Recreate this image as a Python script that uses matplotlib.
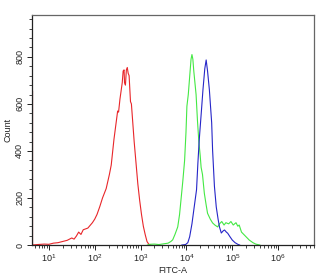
import numpy as np
import matplotlib
matplotlib.use("Agg")
import matplotlib.pyplot as plt
from matplotlib.ticker import FixedLocator, MultipleLocator, FuncFormatter

plt.rcParams['font.family'] = ['Liberation Sans', 'DejaVu Sans']
plt.rcParams['mathtext.fontset'] = 'custom'
plt.rcParams['mathtext.rm'] = 'Liberation Sans'
plt.rcParams['mathtext.it'] = 'Liberation Sans'

# histogram traces, x given as log10(FITC-A)
red_log = [0.63, 0.63, 0.75, 0.9, 1.0, 1.1, 1.2, 1.3, 1.4, 1.5, 1.55, 1.6, 1.65, 1.7, 1.75,
           1.85, 1.95, 2.0, 2.05, 2.11, 2.17, 2.25, 2.32, 2.36, 2.39, 2.42, 2.46, 2.5, 2.52,
           2.55, 2.6, 2.62, 2.64, 2.65, 2.67, 2.69, 2.71, 2.73, 2.75, 2.78, 2.8, 2.83, 2.86,
           2.9, 2.94, 2.98, 3.02, 3.06, 3.1, 3.14, 3.18, 3.22]
red_cnt = [650, 0, 2, 4, 3, 8, 10, 15, 20, 30, 25, 38, 55, 45, 65,
           72, 95, 110, 130, 163, 200, 240, 300, 340, 395, 450, 510, 570, 565,
           620, 690, 740, 745, 690, 680, 745, 755, 730, 720, 610, 600, 520, 440,
           350, 260, 190, 130, 80, 45, 15, 3, 0]

green_log = [3.15, 3.2, 3.3, 3.4, 3.5, 3.6, 3.66, 3.7, 3.75, 3.81, 3.85, 3.88, 3.92, 3.96,
             3.99, 4.01, 4.04, 4.07, 4.1, 4.12, 4.14, 4.16, 4.18, 4.21, 4.24, 4.27, 4.3,
             4.32, 4.35, 4.39, 4.43, 4.46, 4.52, 4.57, 4.62, 4.68, 4.72, 4.77, 4.82, 4.86,
             4.92, 4.97, 5.02, 5.08, 5.12, 5.15, 5.2, 5.25, 5.3, 5.37, 5.45, 5.51, 5.6]
green_cnt = [0, 3, 4, 2, 5, 8, 15, 22, 45, 77, 130, 190, 270, 360,
             480, 590, 640, 715, 790, 810, 790, 740, 700, 640, 530, 440, 380,
             330, 300, 220, 170, 135, 110, 94, 85, 77, 90, 100, 85, 95,
             90, 100, 85, 95, 80, 85, 55, 45, 35, 21, 10, 4, 0]

blue_log = [3.9, 3.98, 4.03, 4.07, 4.12, 4.17, 4.22, 4.25, 4.28, 4.33, 4.36, 4.4, 4.43,
            4.46, 4.5, 4.55, 4.57, 4.61, 4.65, 4.69, 4.72, 4.76, 4.8, 4.83, 4.87, 4.9,
            4.95, 5.0, 5.06, 5.12, 5.16]
blue_cnt = [0, 2, 10, 35, 90, 163, 235, 350, 450, 580, 660, 750, 787,
            740, 660, 520, 404, 250, 162, 110, 77, 51, 60, 64, 55, 50,
            35, 21, 10, 3, 0]

decades = [1, 2, 3, 4, 5, 6]

fig = plt.figure(figsize=(3.22, 2.75), dpi=100)
ax = fig.add_axes([0.099, 0.109, 0.876, 0.838])

ax.plot(10 ** np.array(red_log), red_cnt, color='#e8262a', lw=0.8)
ax.plot(10 ** np.array(green_log), green_cnt, color='#44e844', lw=0.8)
ax.plot(10 ** np.array(blue_log), blue_cnt, color='#2626c8', lw=0.8)
# pile-up at the left edge is drawn darker
ax.plot(10 ** np.array(red_log[:2]), red_cnt[:2], color='#a01c1c', lw=1.6)

ax.set_xscale('log')
ax.set_xlim(10 ** 0.63, 10 ** 6.78)
ax.set_ylim(0, 980)

major = [10.0 ** d for d in decades]
minor = [m * 10.0 ** d for d in [0] + decades for m in range(2, 10)]
ax.xaxis.set_major_locator(FixedLocator(major))
ax.xaxis.set_minor_locator(FixedLocator(minor))
ax.xaxis.set_major_formatter(FuncFormatter(lambda v, p: r'$10^{%d}$' % round(np.log10(v))))
ax.xaxis.set_minor_formatter(FuncFormatter(lambda v, p: ''))
ax.yaxis.set_major_locator(MultipleLocator(200))
ax.yaxis.set_minor_locator(MultipleLocator(40))

ax.tick_params(which='major', length=3.5, width=0.7, labelsize=6.5, pad=2, colors='#222222')
ax.tick_params(which='minor', length=2.2, width=0.6, colors='#222222')
for lbl in ax.get_yticklabels():
    lbl.set_rotation(90)
    lbl.set_va('center')

for s in ax.spines.values():
    s.set_color('#666666')
    s.set_linewidth(0.9)
ax.spines['left'].set_color('#222222')
ax.spines['bottom'].set_color('#222222')

ax.set_xlabel('FITC-A', fontsize=6.5, labelpad=1, color='#222222')
ax.set_ylabel('Count', fontsize=6.5, color='#222222')
ax.yaxis.set_label_coords(-0.068, 0.5)

fig.savefig('out.png', dpi=100)
